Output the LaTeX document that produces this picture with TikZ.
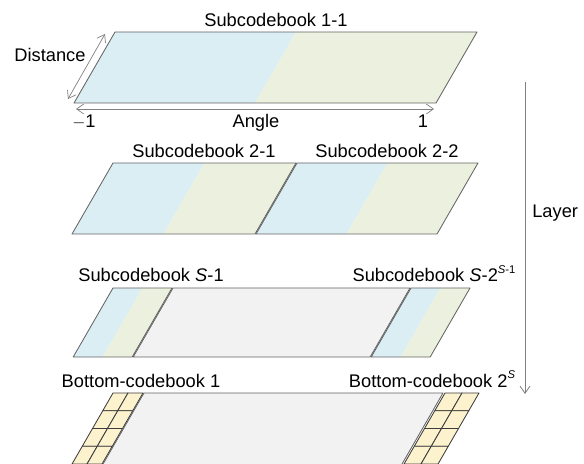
\documentclass[tikz,border=0pt]{standalone}
\usepackage{fontspec}
\setmainfont{Liberation Sans}
\usetikzlibrary{arrows.meta}
\usetikzlibrary{positioning}

\definecolor{cbBlue}{RGB}{218,238,243}
\definecolor{cbGreen}{RGB}{235,241,222}
\definecolor{cbGray}{RGB}{242,242,242}
\definecolor{cbTan}{RGB}{253,242,206}
\definecolor{edgegray}{RGB}{100,100,100}
\definecolor{cellgray}{RGB}{60,60,60}
\definecolor{arrowgray}{RGB}{128,128,128}

\tikzset{
    piece/.style={
        draw=edgegray,
        line width=0.6pt,
        line join=round
    },
    lbl/.style={
        font=\fontsize{13}{15}\selectfont,
        anchor=base,
        inner sep=0pt
    },
    dimarrow/.style={
        <->,
        >={Straight Barb[length=5pt,width=7pt]},
        draw=arrowgray,
        line width=0.5pt
    }
}

% small raised index
\newcommand{\idx}[1]{\raisebox{0.85ex}{\fontsize{8}{9}\selectfont #1}}

% slanted slab, left half blue and right half green
% #1,#2 top-left corner, #3 width, #4 height
\newcommand{\splitslab}[4]{%
    \fill[cbBlue] (#1,#2) -- ++({#3/2},0) -- ++({-0.577*#4},#4) -- ++({-#3/2},0) -- cycle;
    \fill[cbGreen] ({#1+#3/2},#2) -- ++({#3/2},0) -- ++({-0.577*#4},#4) -- ++({-#3/2},0) -- cycle;
    \draw[piece] (#1,#2) -- ++(#3,0) -- ++({-0.577*#4},#4) -- ++({-#3},0) -- cycle;
}
% slanted slab of 2 x 4 cells
\newcommand{\cellslab}[3]{%
    \foreach \c in {0,1} {
        \foreach \r in {0,...,3} {
            \draw[piece, draw=cellgray, fill=cbTan]
                ({#1+#3*\c-0.577*17.75*\r},{#2+17.75*\r}) -- ++(#3,0)
                -- ++({-0.577*17.75},17.75) -- ++({-#3},0) -- cycle;
        }
    }
}

\begin{document}
\begin{tikzpicture}[x=0.025cm, y=-0.025cm]
\clip (0,0) rectangle (584,464);

% 1. Top layer
\splitslab{115}{32}{362}{71}
\node[lbl] (top) at (276,27) {Subcodebook 1-1};
\node[lbl] (dist) at (50,62) {Distance};
\node[lbl] (minus) at (84,128) {$-$1};
\node[lbl] (angle) at (256,128) {Angle};
\node[lbl] (plus) at (423,128) {1};
\coordinate (dist-lo) at (68,99);
\coordinate (dist-hi) at (105,34);
\coordinate (ang-lo) at (76,109);
\coordinate (ang-hi) at (434,109);
\draw[dimarrow] (dist-lo) -- (dist-hi);
\draw[dimarrow] (ang-lo) -- (ang-hi);

% 2. Second layer
\splitslab{113}{163}{183}{71}
\splitslab{297}{163}{181}{71}
\node[lbl] (sub21) at (204,158) {Subcodebook 2-1};
\node[lbl] (sub22) at (387,158) {Subcodebook 2-2};

% 3. Layer S
\splitslab{113}{288}{59}{69}
\draw[piece, fill=cbGray] (173,288) -- ++(237,0) -- ++({-0.577*69},69) -- ++(-237,0) -- cycle;
\splitslab{411}{288}{59}{69}
\node[lbl] (subS1) at (151,282) {Subcodebook \textit{S}-1};
\node[lbl] (subS2) at (434,282) {Subcodebook \textit{S}-2\idx{\textit{S}-1}};

% 4. Bottom layer
\cellslab{113}{393}{15}
\draw[piece, fill=cbGray] (144,393) -- ++(299,0) -- ++({-0.577*72},72) -- ++(-299,0) -- cycle;
\cellslab{445}{393}{17}
\node[lbl] (bot1) at (141,387) {Bottom-codebook 1};
\node[lbl] (bot2) at (432,387) {Bottom-codebook 2\idx{\textit{S}}};

% 5. Layer axis
\coordinate (layer-top) at (525,82);
\coordinate (layer-bot) at (525,394);
\draw[->, >={Straight Barb[length=5pt,width=7pt]}, draw=arrowgray, line width=0.6pt] (layer-top) -- (layer-bot);
\node[lbl, anchor=base west] (layer) at (532,218) {Layer};

\end{tikzpicture}
\end{document}
